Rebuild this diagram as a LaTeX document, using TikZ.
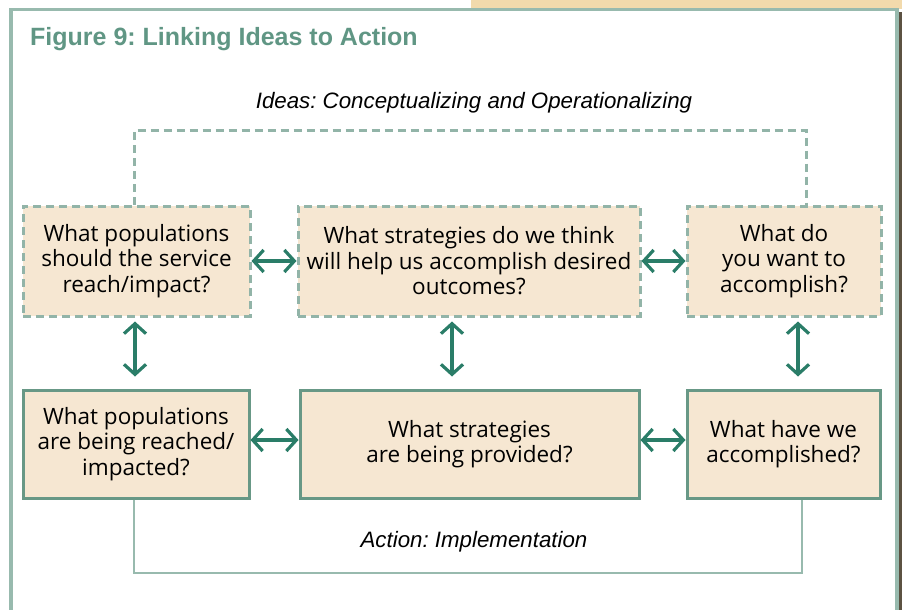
\documentclass[tikz,border=0pt]{standalone}
\usepackage{fontspec}
\setmainfont{Open Sans}
\newfontfamily\labelfont{Liberation Sans}
\frenchspacing
\usetikzlibrary{positioning, arrows.meta}
\definecolor{frameGreen}{RGB}{152,186,174}
\definecolor{dashGreen}{RGB}{146,180,168}
\definecolor{solidGreen}{RGB}{104,152,134}
\definecolor{arrowGreen}{RGB}{42,125,104}
\definecolor{titleGreen}{RGB}{96,150,132}
\definecolor{boxFill}{RGB}{246,231,210}
\definecolor{wheat}{RGB}{242,218,172}
\definecolor{shadowBrown}{RGB}{92,82,66}

\begin{document}
\begin{tikzpicture}[
    x=1pt, y=-1pt,
    % --- stili per i riquadri ---
    question/.style={fill=boxFill, line width=3pt, align=center, inner sep=0,
        font=\fontsize{22.5}{25.5}\selectfont},
    planbox/.style={question, draw=dashGreen, dash pattern=on 8pt off 5pt},
    actbox/.style={question, draw=solidGreen},
    link/.style={draw=arrowGreen, line width=3.2pt,
        {Straight Barb[length=10pt,width=22pt]}-{Straight Barb[length=10pt,width=22pt]}},
    caption/.style={font=\labelfont\itshape\fontsize{22.3}{25}\selectfont}
]
\clip (0,0) rectangle (902,610);

% 1. Cornice esterna
\fill[wheat] (471,0) rectangle (902,9);
\fill[shadowBrown] (898,12) rectangle (902,610);
\draw[frameGreen, line width=3.2pt] (11,620) -- (11,9.5) -- (897,9.5) -- (897,620);

% 2. Titolo
\node (title) [anchor=base west, inner sep=0, text=titleGreen,
    font=\labelfont\bfseries\fontsize{25}{28}\selectfont] at (30,46)
    {Figure 9: Linking Ideas to Action};

% 3. Riquadri delle idee (tratteggiati)
\node (popPlan) [planbox, minimum width=227, minimum height=110] at (136.5,261)
    {What populations\\should the service\\reach/impact?};
\node (stratPlan) [planbox, minimum width=342, minimum height=110] at (469,261)
    {What strategies do we think\\will help us accomplish desired\\outcomes?};
\node (goalPlan) [planbox, minimum width=194, minimum height=110] at (784,261)
    {What do\\you want to\\accomplish?};

% 4. Riquadri dell'azione
\node (popAct) [actbox, minimum width=226, minimum height=108] at (136,444)
    {What populations\\are being reached/\\impacted?};
\node (stratAct) [actbox, minimum width=339, minimum height=108] at (469.5,444)
    {What strategies\\are being provided?};
\node (goalAct) [actbox, minimum width=193, minimum height=108] at (783.5,444)
    {What have we\\accomplished?};

% 5. Parentesi superiore e inferiore
\coordinate (ideasL) at (134,130);
\coordinate (ideasR) at (806,130);
\draw[dashGreen, line width=3pt, dash pattern=on 8pt off 5pt]
    (popPlan.north -| ideasL) -- (ideasL) -- (ideasR) -- (goalPlan.north -| ideasR);
\node (ideas) [caption] at (474,103) {Ideas: Conceptualizing and Operationalizing};

\coordinate (actL) at (134,573);
\coordinate (actR) at (802,573);
\draw[frameGreen, line width=2.8pt]
    (popAct.south -| actL) -- (actL) -- (actR) -- (goalAct.south -| actR);
\node (action) [caption] at (474,542) {Action: Implementation};

% 6. Frecce doppie
\draw[link] (popPlan.east) -- (stratPlan.west);
\draw[link] (stratPlan.east) -- (goalPlan.west);
\draw[link] ([yshift=4pt]popAct.east) -- ([yshift=4pt]stratAct.west);
\draw[link] ([yshift=4pt]stratAct.east) -- ([yshift=4pt]goalAct.west);
\draw[link] ([xshift=-1.5pt,yshift=-4pt]popPlan.south) -- ([xshift=-1pt,yshift=12pt]popAct.north);
\draw[link] ([xshift=-17pt,yshift=-4pt]stratPlan.south) -- ([xshift=-17.5pt,yshift=12pt]stratAct.north);
\draw[link] ([xshift=14pt,yshift=-4pt]goalPlan.south) -- ([xshift=14.5pt,yshift=12pt]goalAct.north);
\end{tikzpicture}
\end{document}
